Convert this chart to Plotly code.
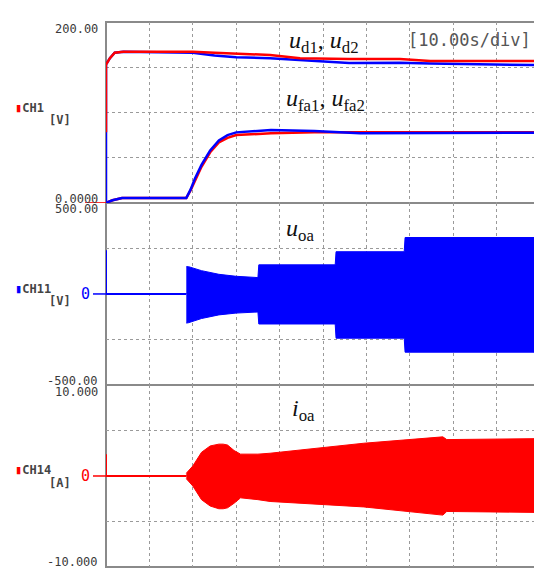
import plotly.graph_objects as go
from plotly.subplots import make_subplots

# ---------------- data ----------------
# top panel: DC voltages [V] vs time [s]
ud1_t = [0, 0, 0.9, 2.0, 4.0, 20, 25, 30, 37.8, 44.7, 56, 67.7, 74.7, 98.6]
ud1_v = [78, 153, 160, 166, 167, 167, 166, 165, 163.5, 160, 159, 159, 157, 157]
ud2_t = [0, 0, 0.9, 2.0, 4.0, 20, 25, 30, 37.8, 44.7, 56, 67.7, 74.7, 98.6]
ud2_v = [0, 153, 160, 166, 167, 166, 163, 161, 160, 158, 154.7, 155, 154, 152.5]

ufa1_t = [0, 1.5, 3.7, 18.5, 19.5, 20.5, 22, 24, 26, 28, 30, 38, 48, 58.5, 98.6]
ufa1_v = [0, 3, 5.5, 5.5, 14, 25, 40, 56, 67, 72, 75, 77, 78, 78, 78]
ufa2_t = [0, 1.5, 3.7, 18.5, 19.5, 20.5, 22, 24, 26, 28, 30, 38, 48, 58.5, 98.6]
ufa2_v = [0, 3, 5.5, 5.5, 15, 27, 42, 58, 69, 75, 78, 80.5, 79.5, 77, 77.7]

# middle panel: u_oa [V] — baseline and oscillation envelope
uoa_base_t = [0, 0, 0.3, 18.5]
uoa_base_v = [240, 0, 0, 0]
uoa_env_t = [18.5, 19, 22, 26, 30, 35, 35.2, 52.8, 53.0, 68.7, 68.9, 98.6]
uoa_up = [150, 150, 128, 108, 97, 90, 160, 160, 232, 232, 310, 310]
uoa_lo = [-160, -158, -135, -115, -105, -99, -165, -165, -243, -243, -320, -320]

# bottom panel: i_oa [A] — baseline and oscillation envelope
ioa_base_t = [0, 0, 0.3, 18.5]
ioa_base_v = [2.4, 0, 0, 0]
ioa_env_t = [18.5, 19, 20, 22, 24, 26, 27, 28, 29.5, 31, 35, 37.8, 59.4, 77.6, 78.5, 98.6]
ioa_up = [0.3, 0.6, 1.1, 2.6, 3.3, 3.5, 3.5, 3.4, 2.8, 2.4, 2.4, 2.5, 3.6, 4.3, 4.0, 4.1]
ioa_lo = [-0.3, -0.6, -1.1, -2.6, -3.3, -3.6, -3.6, -3.5, -3.0, -2.4, -2.6, -2.8, -3.4, -4.3, -3.9, -4.0]

x_range = [0, 98.6]
y_ranges = [[0, 200], [-500, 500], [-10, 10]]
y_dticks = [50, 250, 5]
y_top_labels = ["200.00", "500.00", "10.000"]
y_bot_labels = ["0.0000", "-500.00", "-10.000"]
channel_names = ["CH1", "CH11", "CH14"]
channel_units = ["[V]", "[V]", "[A]"]

RED = "#ff0000"
BLUE = "#0000ff"
GRID = "#9a9a9a"
BORDER = "#8a8a8a"

fig = make_subplots(rows=3, cols=1, shared_xaxes=True, vertical_spacing=0)

# top panel
fig.add_trace(go.Scatter(x=ud2_t, y=ud2_v, mode="lines", line=dict(color=BLUE, width=2.5)), 1, 1)
fig.add_trace(go.Scatter(x=ud1_t, y=ud1_v, mode="lines", line=dict(color=RED, width=2.5)), 1, 1)
fig.add_trace(go.Scatter(x=ufa1_t, y=ufa1_v, mode="lines", line=dict(color=RED, width=2.5)), 1, 1)
fig.add_trace(go.Scatter(x=ufa2_t, y=ufa2_v, mode="lines", line=dict(color=BLUE, width=2.5)), 1, 1)

# middle panel
fig.add_trace(go.Scatter(x=uoa_base_t, y=uoa_base_v, mode="lines", line=dict(color=BLUE, width=2)), 2, 1)
fig.add_trace(go.Scatter(x=uoa_env_t + uoa_env_t[::-1], y=uoa_up + uoa_lo[::-1],
                         mode="lines", fill="toself", fillcolor=BLUE,
                         line=dict(color=BLUE, width=1)), 2, 1)

# bottom panel
fig.add_trace(go.Scatter(x=ioa_base_t, y=ioa_base_v, mode="lines", line=dict(color=RED, width=2)), 3, 1)
fig.add_trace(go.Scatter(x=ioa_env_t + ioa_env_t[::-1], y=ioa_up + ioa_lo[::-1],
                         mode="lines", fill="toself", fillcolor=RED,
                         line=dict(color=RED, width=1)), 3, 1)

domains = [[0.668, 1.0], [0.334, 0.668], [0.0, 0.334]]
for i in range(3):
    fig.update_yaxes(row=i + 1, col=1, range=y_ranges[i], dtick=y_dticks[i], tick0=0,
                     showticklabels=False, showgrid=True, griddash="dot", gridcolor=GRID,
                     gridwidth=1, zeroline=False, showline=False, ticks="",
                     domain=domains[i])
    fig.update_xaxes(row=i + 1, col=1, range=x_range, dtick=10, tick0=0,
                     showticklabels=False, showgrid=True, griddash="dot", gridcolor=GRID,
                     gridwidth=1, zeroline=False, showline=False, ticks="")

shapes = []
for d in domains:
    shapes.append(dict(type="rect", xref="paper", yref="paper", x0=0, x1=1.05, y0=d[0], y1=d[1],
                       line=dict(color=BORDER, width=2), layer="below"))

annots = []
mono = "DejaVu Sans Mono"
yrefs = ["y", "y2", "y3"]
top_shift = [-7, -6, -7]
bot_shift = [4, 4, 5]
for i in range(3):
    annots.append(dict(xref="paper", yref=yrefs[i], x=0, y=y_ranges[i][1], xshift=-6, yshift=top_shift[i],
                       text=y_top_labels[i], showarrow=False, xanchor="right", yanchor="middle",
                       font=dict(family=mono, size=12, color="#3a3a3a")))
    annots.append(dict(xref="paper", yref=yrefs[i], x=0, y=y_ranges[i][0], xshift=-6, yshift=bot_shift[i],
                       text=y_bot_labels[i], showarrow=False, xanchor="right", yanchor="middle",
                       font=dict(family=mono, size=12, color="#3a3a3a")))

ch_colors = [RED, BLUE, RED]
ch_y = [108, 289, 470]
unit_y = [120, 301, 483]
for i in range(3):
    annots.append(dict(xref="paper", yref="paper", x=-(106 - 13) / 428, y=(567 - ch_y[i]) / 545,
                       text="<span style='color:%s'>▮</span><b>%s</b>" % (ch_colors[i], channel_names[i]),
                       showarrow=False, xanchor="left", yanchor="middle",
                       font=dict(family=mono, size=12, color="#444")))
    annots.append(dict(xref="paper", yref="paper", x=-(106 - 47) / 428, y=(567 - unit_y[i]) / 545,
                       text="<b>%s</b>" % channel_units[i], showarrow=False, xanchor="left", yanchor="middle",
                       font=dict(family=mono, size=12, color="#444")))

# zero markers
for col, yr in [(BLUE, "y2"), (RED, "y3")]:
    annots.append(dict(xref="paper", yref=yr, x=0, y=0, xshift=-14, text="0", showarrow=False,
                       xanchor="right", yanchor="middle",
                       font=dict(family=mono, size=15, color=col)))
zero_marks = [(RED, "y", 0, -21), (BLUE, "y2", 0, -13), (RED, "y3", 0, -13)]
for col, yr, yv, dx in zero_marks:
    shapes.append(dict(type="line", xref="paper", yref=yr, x0=dx / 428, x1=0, y0=yv, y1=yv,
                       line=dict(color=col, width=1.5)))

serif = "Liberation Serif"
math_labels = [
    ("<i>u</i><sub>d1</sub>, <i>u</i><sub>d2</sub>", 287, 42),
    ("<i>u</i><sub>fa1</sub>, <i>u</i><sub>fa2</sub>", 284, 100),
    ("<i>u</i><sub>oa</sub>", 284, 230),
    ("<i>i</i><sub>oa</sub>", 290, 410),
]
for txt, px, py in math_labels:
    annots.append(dict(xref="paper", yref="paper", x=(px - 106) / 428, y=(567 - py) / 545,
                       text=txt, showarrow=False, xanchor="left", yanchor="middle",
                       font=dict(family=serif, size=24, color="#111")))
annots.append(dict(xref="paper", yref="paper", x=(406 - 106) / 428, y=(567 - 40) / 545,
                   text="[10.00s/div]", showarrow=False, xanchor="left", yanchor="middle",
                   font=dict(family=mono, size=17, color="#555")))

fig.update_layout(shapes=shapes, annotations=annots, width=534, height=568, showlegend=False,
                  margin=dict(l=106, r=0, t=22, b=1),
                  plot_bgcolor="white", paper_bgcolor="white")

fig.write_html("out.html", config={"displayModeBar": False},
               post_script="document.body.style.margin='0px';document.body.style.overflow='hidden';")
